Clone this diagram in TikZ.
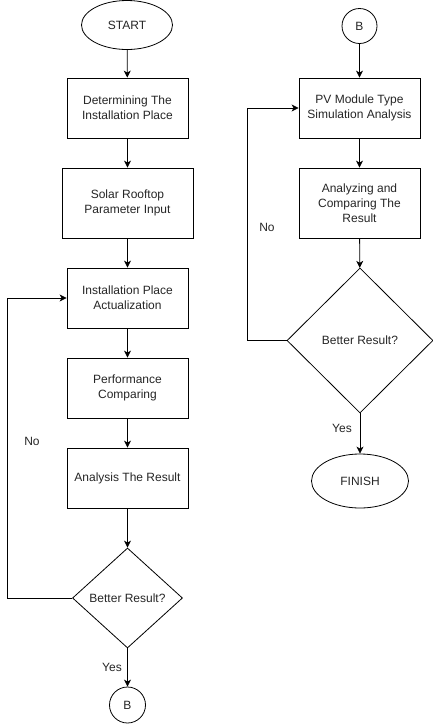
\documentclass[tikz,border=0pt]{standalone}
\usepackage{fontspec}
\setmainfont{Liberation Sans}
\usetikzlibrary{shapes.geometric,arrows.meta}
\begin{document}
\begin{tikzpicture}[x=1pt,y=-1pt,
  every node/.style={font=\fontsize{12}{15}\selectfont, text=black!85},
  base/.style={draw, line width=0.8pt, align=center, inner sep=0pt},
  box/.style={base, rectangle, minimum width=121pt, minimum height=60pt},
  term/.style={base, ellipse},
  conn/.style={base, circle, minimum size=36pt},
  dec/.style={base, diamond},
  flow/.style={line width=0.8pt, -{Stealth[length=7pt,width=7pt,inset=2pt]}},
  lab/.style={inner sep=0pt}]
\useasboundingbox[fill=white] (0,0) rectangle (433,724);
% left column
\node[term, minimum width=91pt, minimum height=49pt] (start) at (127,25) {START};
\node[box] (b1) at (127.5,108) {Determining The\\Installation Place};
\node[box, minimum width=131pt, minimum height=70pt] (b2) at (127.5,203) {Solar Rooftop\\Parameter Input};
\node[box] (b3) at (127.5,298) {Installation Place\\Actualization};
\node[box] (b4) at (127.5,388) {Performance\\Comparing};
\node[box] (b5) at (127.5,478) {Analysis The Result};
\node[dec, minimum width=110pt, minimum height=100pt] (d1) at (127.5,598) {Better Result?};
\node[conn] (bl) at (127.5,705) {B};
\coordinate (l1) at (7,598);
\node[lab] (no1) at (32,441) {No};
\node[lab] (yes1) at (112,667) {Yes};
\draw[flow] (start) -- (b1);
\draw[flow] (b1) -- (b2);
\draw[flow] (b2) -- (b3);
\draw[flow] (b3) -- (b4);
\draw[flow] (b4) -- (b5);
\draw[flow] (b5) -- (d1);
\draw[flow] (d1) -- (bl);
\draw[flow] (d1.west) -- (l1) |- (b3.west);
% right column
\node[conn, minimum size=35pt] (br) at (359.5,26) {B};
\node[box] (p1) at (359.5,108) {PV Module Type\\Simulation Analysis};
\node[box, minimum height=70pt] (p2) at (359.5,203) {Analyzing and\\Comparing The\\Result};
\node[dec, minimum width=146pt, minimum height=145pt] (d2) at (360,340.5) {Better Result?};
\node[term, minimum width=97pt, minimum height=54pt] (fin) at (360,481) {FINISH};
\coordinate (l2) at (247,340.5);
\node[lab] (no2) at (267,227) {No};
\node[lab] (yes2) at (342,428) {Yes};
\draw[flow] (br) -- (p1);
\draw[flow] (p1) -- (p2);
\draw[flow] (p2) -- (d2);
\draw[flow] (d2) -- (fin);
\draw[flow] (d2.west) -- (l2) |- (p1.west);
\end{tikzpicture}
\end{document}
